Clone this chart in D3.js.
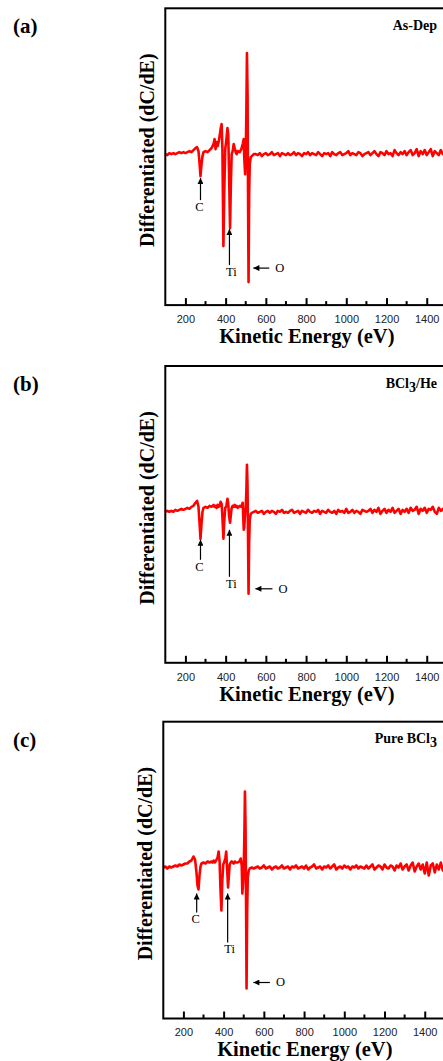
<!DOCTYPE html>
<html>
<head>
<meta charset="utf-8">
<script src="https://cdn.jsdelivr.net/npm/d3@7"></script>
<style>
  body { margin: 0; background: #fff; }
  svg { display: block; }
</style>
</head>
<body>
<svg id="chart" width="443" height="1061"></svg>
<script>
// kinetic energy grid (eV): dense around the C / Ti / O features, coarse afterwards
const energyPeak = [100,110,120,130,140,150,160,170,180,190,
  200,210,220,230,240,250,258,265,270,275,
  280,285,290,300,310,320,330,340,345,350,
  355,360,365,370,375,380,384,389,393,398,
  404,409,413,417,422,426,430,435,440,445,
  450,455,460,470,478,485,490,493,497,500,
  503,506,509,512,514,517,520,525,530,540];
const energyTail = d3.range(550, 1501, 10);

// dC/dE, arbitrary units (baseline = 0)
const asDepPeak = [0,-1,1,0,1,0,1,2,1,2,
  1,2,3,2,4,6,7,3,-8,-22,
  -10,-2,2,3,2,4,6,10,15,5,
  12,8,12,18,25,30,5,-92,-40,5,
  15,26,20,-20,-74,-30,0,3,10,6,
  2,0,3,2,5,10,15,-5,-20,0,
  40,101,60,-60,-128,-40,-10,-3,-2,0];
const asDepTail = [0,-1,1,-2,0,1,-1,0,2,-1,0,1,-2,1,0,-1,
  1,-1,0,2,-1,1,0,-2,1,0,2,-1,1,0,-1,2,0,-2,1,0,
  1,-2,2,0,-1,1,2,-1,0,1,3,-1,1,0,-1,2,1,-2,0,1,
  2,-1,1,3,0,-2,2,1,-1,3,0,1,-2,4,1,-1,2,0,3,-1,
  2,4,-1,1,5,-2,3,0,4,-1,2,5,-2,3,1,-1,4,0,2,3];

const bcl3HePeak = [0,1,0,1,0,2,1,2,3,2,
  3,4,3,5,6,9,11,5,-10,-27,
  -12,0,4,5,4,6,5,7,5,6,
  4,7,5,6,10,8,-5,-27,-10,4,
  6,13,8,-4,-11,-3,4,6,5,7,
  5,6,4,6,5,9,-18,-15,0,5,
  20,47,25,-40,-82,-30,-8,-2,-1,0];
const bcl3HeTail = [1,-1,0,1,-2,0,1,-1,1,0,-2,1,0,2,-1,0,
  -1,1,2,-1,0,1,-2,1,0,-1,2,0,-1,1,0,2,-2,1,0,-1,
  2,0,-1,1,-2,2,0,1,-1,3,-1,0,2,-1,1,0,-2,2,1,0,
  1,3,-1,2,0,4,-2,1,3,-1,2,0,4,-1,1,3,-2,2,0,3,
  -1,4,1,2,5,-2,3,1,4,-1,3,2,5,0,-2,4,1,3,-1,2];

const pureBcl3Peak = [0,1,-1,1,0,1,2,1,3,2,
  3,4,4,6,7,11,8,-5,-18,-22,
  -8,1,4,5,4,6,5,6,5,7,
  5,6,8,10,16,6,-20,-43,-15,3,
  6,10,16,0,-20,-8,3,5,6,5,
  4,6,5,5,6,9,2,-26,-15,0,
  30,76,40,-50,-121,-45,-10,-3,-1,0];
const pureBcl3Tail = [-1,0,1,-1,0,2,-1,0,1,-2,0,1,-1,0,2,-1,
  0,1,-2,1,0,2,-1,0,1,-1,2,-2,0,1,3,-1,0,1,-2,1,
  0,2,-1,1,3,-2,0,1,-1,2,0,1,-2,1,0,2,-1,1,0,-1,
  2,-1,1,3,-2,0,2,1,-2,3,0,-1,2,1,-3,2,0,4,-2,1,
  3,-3,2,5,-4,1,4,-2,3,-6,5,-8,2,4,-5,3,-2,5,-3,2];

const panelLabels = ["(a)", "(b)", "(c)"];
const sampleNames = [["As-Dep", "", ""], ["BCl", "3", "/He"], ["Pure BCl", "3", ""]];
const xTicks = [200, 400, 600, 800, 1000, 1200, 1400];
const xMinorTicks = [300, 500, 700, 900, 1100, 1300, 1500];

// arrows: element, energy of arrow, tip / tail in signal units (up arrows) or energies (left arrows)
const markersA = [
  {el: "C", dir: "up", e: 275, tip: -24, tail: -46},
  {el: "Ti", dir: "up", e: 419, tip: -75, tail: -111},
  {el: "O", dir: "left", v: -114, tip: 538, tail: 617}
];
const markersB = [
  {el: "C", dir: "up", e: 275, tip: -28, tail: -48},
  {el: "Ti", dir: "up", e: 419, tip: -18, tail: -65},
  {el: "O", dir: "left", v: -77, tip: 548, tail: 633}
];
const markersC = [
  {el: "C", dir: "up", e: 266, tip: -26, tail: -45},
  {el: "Ti", dir: "up", e: 420, tip: -26, tail: -75},
  {el: "O", dir: "left", v: -115, tip: 548, tail: 630}
];

const panels = [
  {peak: asDepPeak, tail: asDepTail, markers: markersA, top: 8.3, left: 165.3},
  {peak: bcl3HePeak, tail: bcl3HeTail, markers: markersB, top: 366, left: 165.3},
  {peak: pureBcl3Peak, tail: pureBcl3Tail, markers: markersC, top: 721.7, left: 163.3}
];

const serif = "Liberation Serif, Times New Roman, serif";
const sans = "Liberation Sans, Arial, sans-serif";
const plotH = 296.8;
const pxPerEv = 0.2011;

const svg = d3.select("#chart");

svg.append("defs").append("marker")
    .attr("id", "head")
    .attr("markerUnits", "userSpaceOnUse")
    .attr("viewBox", "0 0 10 10")
    .attr("refX", 10).attr("refY", 5)
    .attr("markerWidth", 7).attr("markerHeight", 6)
    .attr("orient", "auto")
  .append("path")
    .attr("d", "M0,0L10,5L0,10Z")
    .attr("fill", "#000");

panels.forEach((p, i) => {
  let x = d3.scaleLinear().domain([100, 2000]).range([0, 1900 * pxPerEv]);
  let y = d3.scaleLinear().domain([-151, 145.8]).range([plotH, 0]);

  let g = svg.append("g")
      .attr("transform", "translate(" + p.left + "," + p.top + ")");

  let data = energyPeak.map((e, k) => [e, p.peak[k]])
      .concat(energyTail.map((e, k) => [e, p.tail[k]]));

  g.append("path")
      .datum(data)
      .attr("fill", "none")
      .attr("stroke", "#ff0000")
      .attr("stroke-width", 2.6)
      .attr("stroke-linejoin", "round")
      .attr("d", d3.line().x(d => x(d[0])).y(d => y(d[1])));

  // frame (right side runs off the page)
  g.append("rect")
      .attr("x", 0).attr("y", 0)
      .attr("width", x(2000)).attr("height", plotH)
      .attr("fill", "none")
      .attr("stroke", "#000")
      .attr("stroke-width", 2);

  let xAxis = g.append("g")
      .attr("transform", "translate(0," + plotH + ")")
      .call(d3.axisBottom(x).tickValues(xTicks).tickFormat(d3.format("d"))
        .tickSizeInner(-7).tickSizeOuter(0).tickPadding(10));
  xAxis.select(".domain").remove();
  xAxis.selectAll(".tick line").attr("stroke-width", 2);
  xAxis.selectAll(".tick text")
      .attr("font-family", sans).attr("font-size", 11).attr("fill", "#222");

  g.append("g")
      .attr("transform", "translate(0," + plotH + ")")
      .selectAll("line")
      .data(xMinorTicks)
      .enter().append("line")
        .attr("x1", d => x(d)).attr("x2", d => x(d))
        .attr("y1", 0).attr("y2", -4)
        .attr("stroke", "#000").attr("stroke-width", 2);

  g.append("text")
      .attr("x", 141.5).attr("y", plotH + 38)
      .attr("text-anchor", "middle")
      .attr("font-family", serif).attr("font-weight", "bold").attr("font-size", 20.5)
      .text("Kinetic Energy (eV)");

  g.append("text")
      .attr("transform", "translate(-11," + (plotH / 2 - 6.5) + ") rotate(-90)")
      .attr("text-anchor", "middle")
      .attr("font-family", serif).attr("font-weight", "bold").attr("font-size", 20)
      .text("Differentiated (dC/dE)");

  svg.append("text")
      .attr("x", 13).attr("y", p.top + 25)
      .attr("font-family", serif).attr("font-weight", "bold").attr("font-size", 21)
      .text(panelLabels[i]);

  let name = svg.append("text")
      .attr("x", 437).attr("y", p.top + 21.5)
      .attr("text-anchor", "end")
      .attr("font-family", serif).attr("font-weight", "bold").attr("font-size", 14);
  name.append("tspan").text(sampleNames[i][0]);
  if (sampleNames[i][1]) name.append("tspan").attr("dy", 4).text(sampleNames[i][1]);
  if (sampleNames[i][2]) name.append("tspan").attr("dy", -4).text(sampleNames[i][2]);

  p.markers.forEach(m => {
    let line = g.append("line")
        .attr("stroke", "#000").attr("stroke-width", 1.2)
        .attr("marker-end", "url(#head)");
    let label = g.append("text")
        .attr("font-family", serif).attr("font-size", 12.5)
        .text(m.el);
    if (m.dir === "up") {
      line.attr("x1", x(m.e)).attr("x2", x(m.e))
          .attr("y1", y(m.tail)).attr("y2", y(m.tip));
      label.attr("x", x(m.e) + (m.el === "Ti" ? 2 : -1)).attr("y", y(m.tail) + 11)
          .attr("text-anchor", "middle");
    } else {
      line.attr("x1", x(m.tail)).attr("x2", x(m.tip))
          .attr("y1", y(m.v)).attr("y2", y(m.v));
      label.attr("x", x(m.tail) + 6).attr("y", y(m.v) + 4);
    }
  });
});
</script>
</body>
</html>
